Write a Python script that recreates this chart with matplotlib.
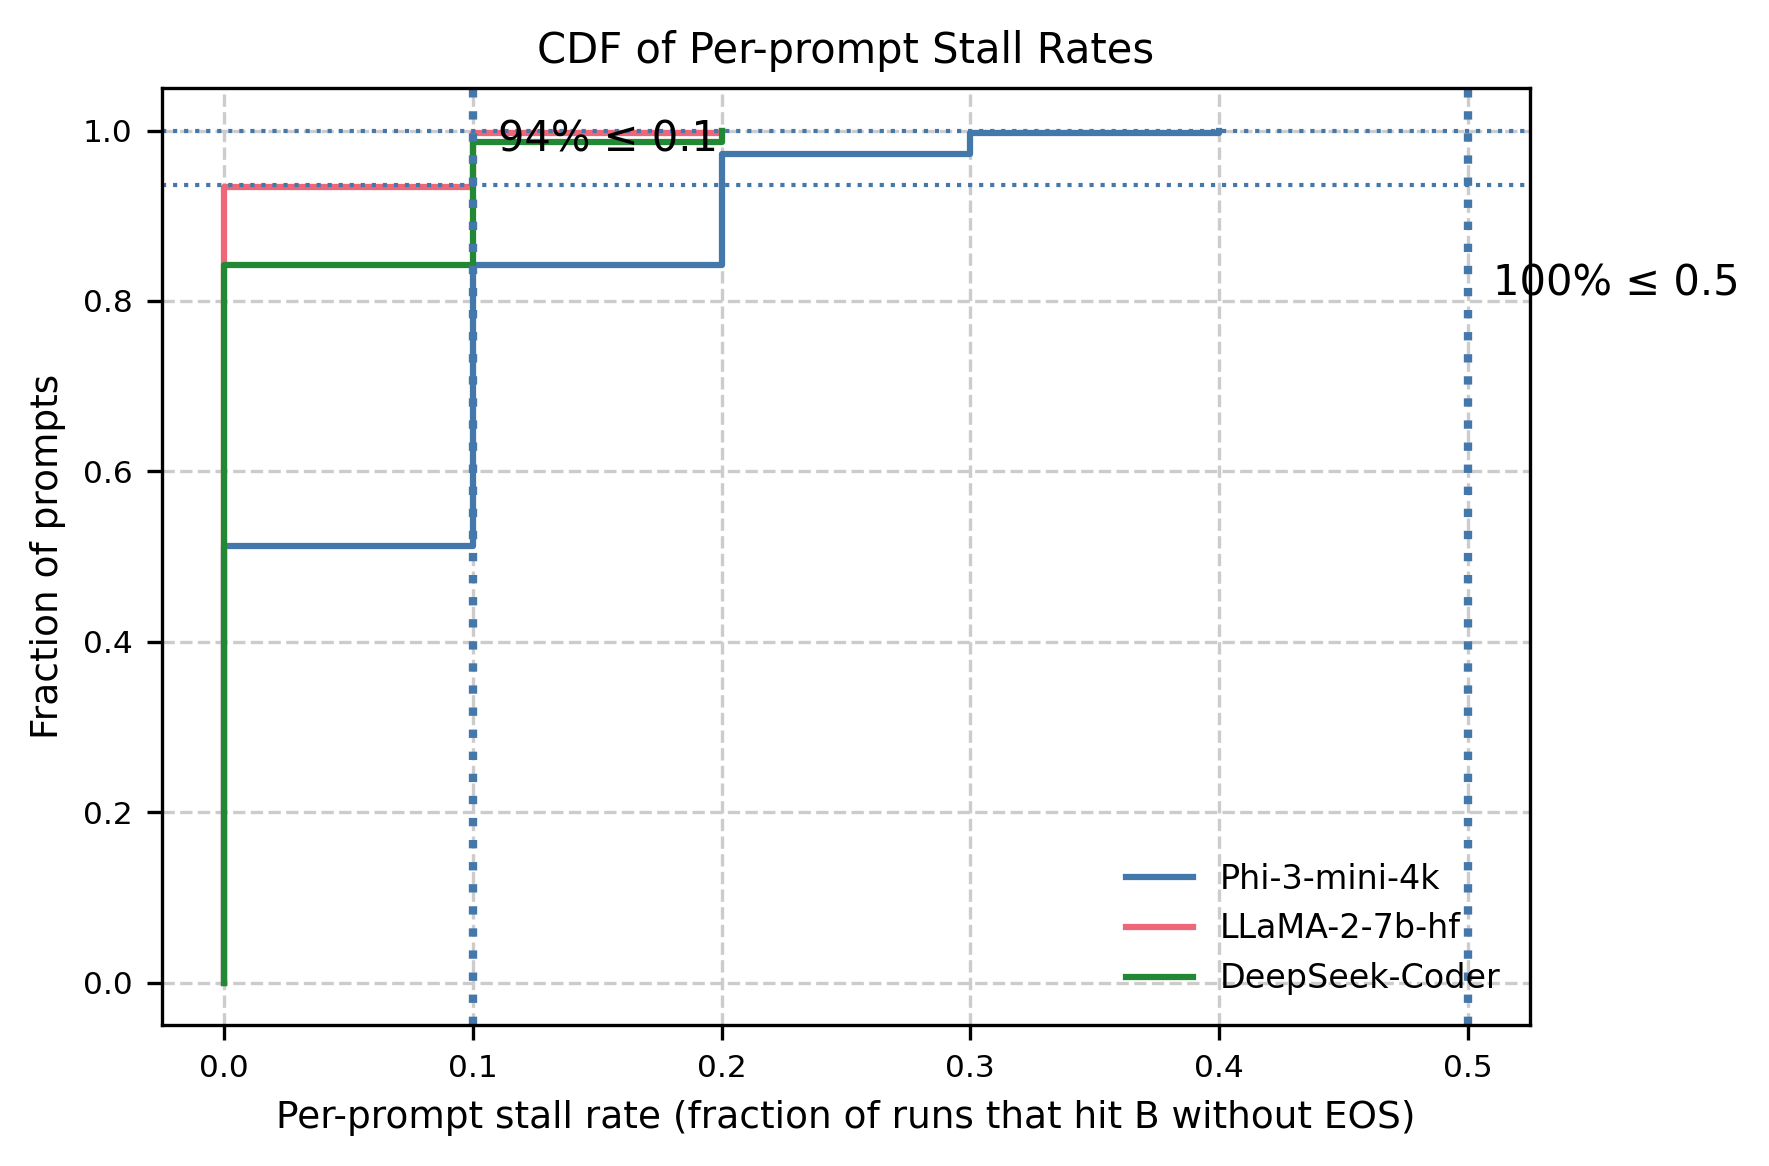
import numpy as np
import matplotlib.pyplot as plt

# -- CDF levels (stall rate takes multiples of 0.1)
models = ['Phi-3-mini-4k', 'LLaMA-2-7b-hf', 'DeepSeek-Coder']
colors = ['#4477AA', '#EE6677', '#228833']

phi_rates = [0.0, 0.1, 0.2, 0.3, 0.4]
phi_cdf = [0.513, 0.842, 0.973, 0.997, 1.0]

llama_rates = [0.0, 0.1, 0.2]
llama_cdf = [0.934, 0.997, 1.0]

deepseek_rates = [0.0, 0.1, 0.2]
deepseek_cdf = [0.842, 0.987, 1.0]

# -- reference lines
hlines = [0.936, 1.0]
vlines = [0.1, 0.5]
notes = ['94% ≤ 0.1', '100% ≤ 0.5']

series = [(phi_rates, phi_cdf), (llama_rates, llama_cdf),
          (deepseek_rates, deepseek_cdf)]

fig, ax = plt.subplots(figsize=(6, 4))

for (rates, cdf), name, col in zip(series, models, colors):
    xs = np.concatenate([[rates[0]], rates])
    ys = np.concatenate([[0.0], cdf])
    ax.step(xs, ys, where='post', color=col, linewidth=1.5, label=name)

for yv in hlines:
    ax.axhline(yv, color='#4477AA', linestyle=':', linewidth=1.0)
for xv in vlines:
    ax.axvline(xv, color='#4477AA', linestyle=':', linewidth=2.0)

ax.text(0.11, 0.99, notes[0], fontsize=10, va='center')
ax.text(0.51, 0.82, notes[1], fontsize=10, va='center')

ax.set_title('CDF of Per-prompt Stall Rates', fontsize=10)
ax.set_xlabel('Per-prompt stall rate (fraction of runs that hit B without EOS)', fontsize=9)
ax.set_ylabel('Fraction of prompts', fontsize=9)
ax.set_ylim(-0.05, 1.05)
ax.tick_params(labelsize=7.5)
ax.grid(True, linestyle='--', color='#cccccc', linewidth=0.8)
ax.set_axisbelow(True)
ax.legend(loc='lower right', frameon=False, fontsize=8)

plt.tight_layout()
plt.savefig('out.png', dpi=300, bbox_inches='tight')
